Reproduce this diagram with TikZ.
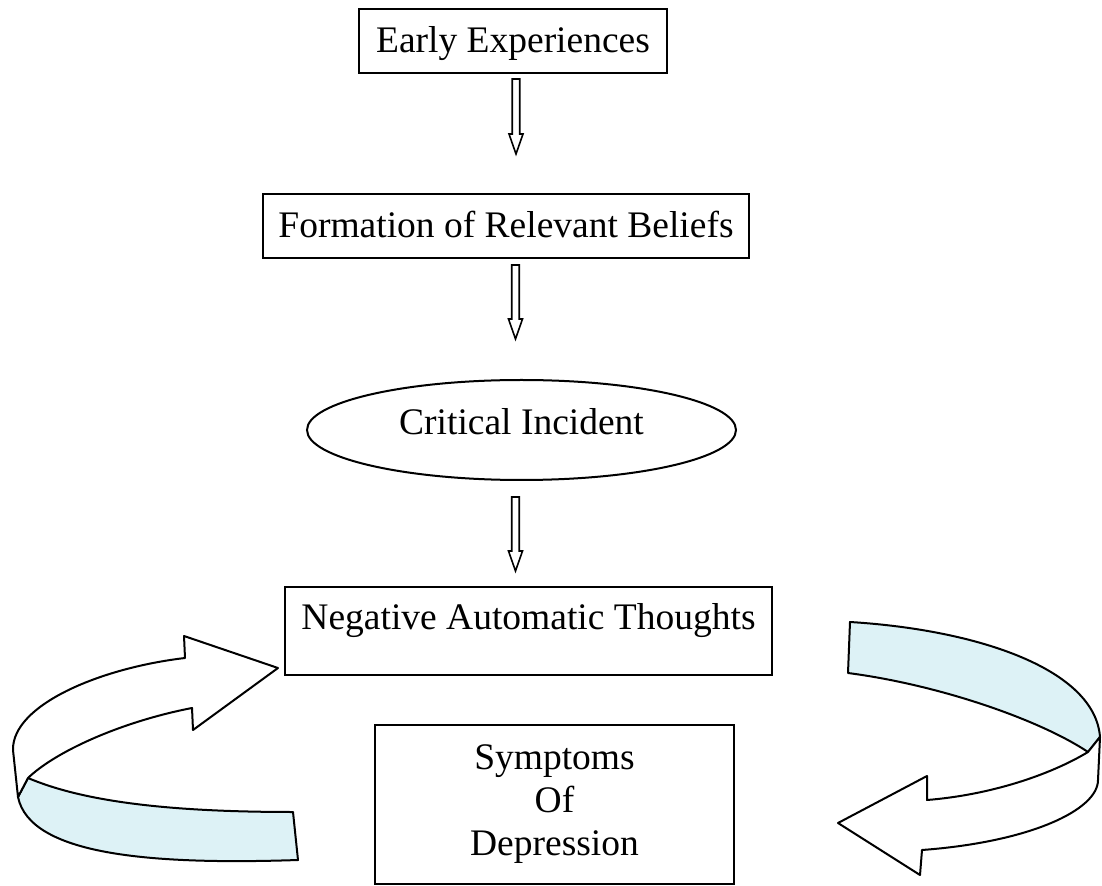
\documentclass[tikz,border=0pt]{standalone}
\usepackage{fontspec}
\setmainfont{Liberation Serif}
\usetikzlibrary{calc,shapes.geometric}
\definecolor{ribbon}{RGB}{221,242,246}
\newcommand{\hollowarrow}[2]{%
  \draw[hollow] ($(#1)+(-3.75,0)$) -- ($(#2)+(-3.75,-20)$) -- ($(#2)+(-7,-20)$) -- (#2) -- ($(#2)+(7,-20)$) -- ($(#2)+(3.75,-20)$) -- ($(#1)+(3.75,0)$) -- cycle;}
\begin{document}
\begin{tikzpicture}[x=0.5pt,y=-0.5pt,
  every node/.style={font=\fontsize{18.75}{21.5}\selectfont},
  boxnode/.style={draw, line width=1pt, fill=white, inner xsep=0pt, inner ysep=0pt},
  hollow/.style={draw, line width=0.8pt, fill=white, line join=miter},
  ribbonline/.style={draw, line width=1pt, line join=round}]
\useasboundingbox (0,0) rectangle (1102,886);

% nodes
\node[boxnode, minimum width=154pt, text height=22pt, text depth=10pt] (early) at (513,41) {Early Experiences};
\node[boxnode, minimum width=243pt, text height=22pt, text depth=10pt] (form) at (506,226) {Formation of Relevant Beliefs};
\node[boxnode, ellipse, minimum width=214.5pt, minimum height=50pt, text height=18pt, text depth=13pt] (crit) at (521.5,430) {Critical Incident};
\node[boxnode, minimum width=243.5pt, text height=21.5pt, text depth=22.5pt] (nat) at (528.5,631) {Negative Automatic Thoughts};
\node[boxnode, minimum width=179.5pt, minimum height=79.5pt, align=center] (symp) at (554.5,804.5) {Symptoms\\Of\\Depression};

% connector end points
\coordinate (a1s) at ($(early.south)+(3,5)$);
\coordinate (a1e) at ($(form.north)+(10,-39)$);
\coordinate (a2s) at ($(form.south)+(9.5,6)$);
\coordinate (a2e) at ($(crit.north)+(-6,-40)$);
\coordinate (a3s) at ($(crit.south)+(-6,16)$);
\coordinate (a3e) at ($(nat.north)+(-13,-15)$);

\hollowarrow{a1s}{a1e}
\hollowarrow{a2s}{a2e}
\hollowarrow{a3s}{a3e}

% left ribbon arrow
\filldraw[ribbonline, fill=ribbon] (28,778) .. controls (80,800) and (160,812) .. (293,812) -- (298,860) .. controls (150,865) and (30,855) .. (18,797) -- cycle;
\filldraw[ribbonline, fill=white] (18,797) -- (13,750) .. controls (12,705) and (100,668) .. (185,658) -- (184,636) -- (278,668) -- (193,730) -- (192,708) .. controls (120,722) and (55,752) .. (28,778) -- cycle;

% right ribbon arrow
\filldraw[ribbonline, fill=ribbon] (850,622) .. controls (980,630) and (1095,670) .. (1100,737) -- (1088,752) .. controls (1040,720) and (940,685) .. (848,673) -- cycle;
\filldraw[ribbonline, fill=white] (1088,752) .. controls (1050,775) and (990,795) .. (927,800) -- (927,776) -- (838,823) -- (920,875) -- (922,850) .. controls (1030,842) and (1098,810) .. (1098,780) -- (1100,737) -- cycle;
\end{tikzpicture}
\end{document}
